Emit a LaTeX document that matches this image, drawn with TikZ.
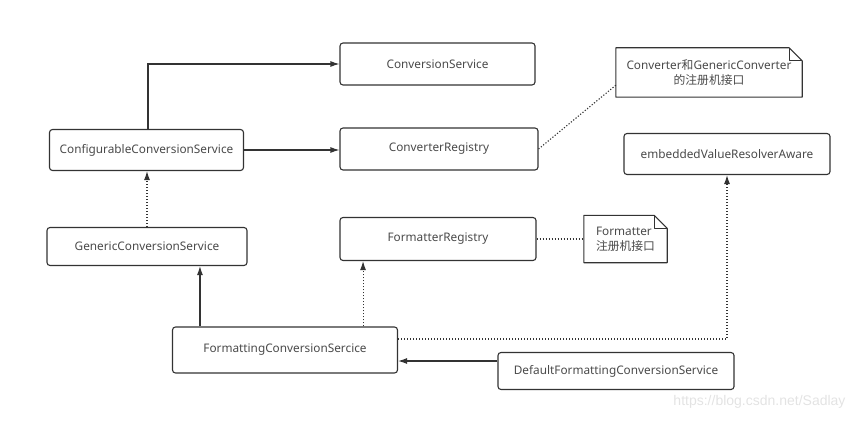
\documentclass[tikz,border=0pt]{standalone}
\usepackage{fontspec}
\setmainfont{Noto Sans}
\newfontfamily\cjk{Noto Sans CJK SC}
\newfontfamily\markfont{Liberation Sans}
\usepackage{tikz}
\usetikzlibrary{calc}
\usetikzlibrary{arrows.meta}
\definecolor{linegray}{HTML}{333333}
\definecolor{textgray}{HTML}{4a4a4a}
\tikzstyle{every node}=[font=\fontsize{11.8}{15}\selectfont, text=textgray]
\tikzstyle{box}=[draw=linegray, line width=1.1pt, rounded corners=3pt, inner sep=0pt]
\tikzstyle{link}=[draw=linegray, line width=1.1pt, -{Latex[length=9pt,width=6pt]}]
\tikzstyle{dots}=[draw=linegray, line width=1.1pt, dash pattern=on 1.2pt off 1.8pt]
\tikzstyle{dotlink}=[link, dash pattern=on 1.2pt off 1.8pt]
\tikzstyle{notebox}=[draw=linegray, line width=1.1pt, line join=round]

\begin{document}
\begin{tikzpicture}[x=1pt, y=-1pt]

                \useasboundingbox (0, 0) rectangle (853, 422);

                \coordinate (CS) at (437.5, 64);
                \coordinate (CCS) at (146.5, 150);
                \coordinate (CR) at (439, 149);
                \coordinate (N1) at (709, 72.5);
                \coordinate (EV) at (727, 154);
                \coordinate (GCS) at (147, 246.5);
                \coordinate (FR) at (438, 239);
                \coordinate (N2) at (625.5, 239);
                \coordinate (FCS) at (285, 350);
                \coordinate (DFCS) at (616, 371);

                \node [box, minimum width=195pt, minimum height=42pt] (cs) at (CS) {ConversionService};
                \node [box, minimum width=194pt, minimum height=41pt] (ccs) at (CCS) {ConfigurableConversionService};
                \node [box, minimum width=198pt, minimum height=42pt] (cr) at (CR) {ConverterRegistry};
                \node [box, minimum width=206pt, minimum height=41pt] (ev) at (EV) {embeddedValueResolverAware};
                \node [box, minimum width=200pt, minimum height=38pt] (gcs) at (GCS) {GenericConversionService};
                \node [box, minimum width=196pt, minimum height=43pt] (fr) at (FR) {FormatterRegistry};
                \node [box, minimum width=225pt, minimum height=46pt] (fcs) at (FCS) {FormattingConversionSercice};
                \node [box, minimum width=236pt, minimum height=37pt] (dfcs) at (DFCS) {DefaultFormattingConversionService};

                % notes with folded corner
                \node [minimum width=186pt, minimum height=49pt, inner sep=0pt, align=center] (n1) at (N1) {Converter{\cjk 和}GenericConverter\\{\cjk 的注册机接口}};
                \node [minimum width=83pt, minimum height=47pt, inner sep=0pt, align=left] (n2) at (N2) {Formatter\\{\cjk 注册机接口}};

                \draw [notebox] (n1.south west) -- (n1.north west) -- ([xshift=-13pt]n1.north east) -- ([yshift=-13pt]n1.north east) -- (n1.south east) -- cycle;
                \draw [notebox] ([xshift=-13pt]n1.north east) -- ([xshift=-13pt, yshift=-13pt]n1.north east) -- ([yshift=-13pt]n1.north east);
                \draw [notebox] (n2.south west) -- (n2.north west) -- ([xshift=-13pt]n2.north east) -- ([yshift=-13pt]n2.north east) -- (n2.south east) -- cycle;
                \draw [notebox] ([xshift=-13pt]n2.north east) -- ([xshift=-13pt, yshift=-13pt]n2.north east) -- ([yshift=-13pt]n2.north east);

                \draw [link] ([xshift=1.5pt]ccs.north) |- (cs.west);
                \draw [link] (ccs.east) -- (ccs.east -| cr.west);
                \draw [dots] (cr.east) -- ([yshift=12pt]n1.south west);
                \draw [dotlink] (gcs.north) -- (gcs.north |- ccs.south);
                \draw [link] ([xshift=28pt]fcs.north west) -- ([xshift=28pt]fcs.north west |- gcs.south);
                \draw [dotlink] ([xshift=-35pt]fcs.north east) -- ([xshift=-35pt]fcs.north east |- fr.south);
                \draw [dots] (fr.east) -- (fr.east -| n2.west);
                \draw [dotlink] ([yshift=11pt]fcs.east) -| (ev.south);
                \draw [link] ([yshift=10pt]dfcs.west) -- ([yshift=10pt]dfcs.west -| fcs.east);

                \node [anchor=east, text=black!11, font=\markfont\fontsize{14}{16}\selectfont] (mark) at (849, 402) {https://blog.csdn.net/Sadlay};

            \end{tikzpicture}
\end{document}
